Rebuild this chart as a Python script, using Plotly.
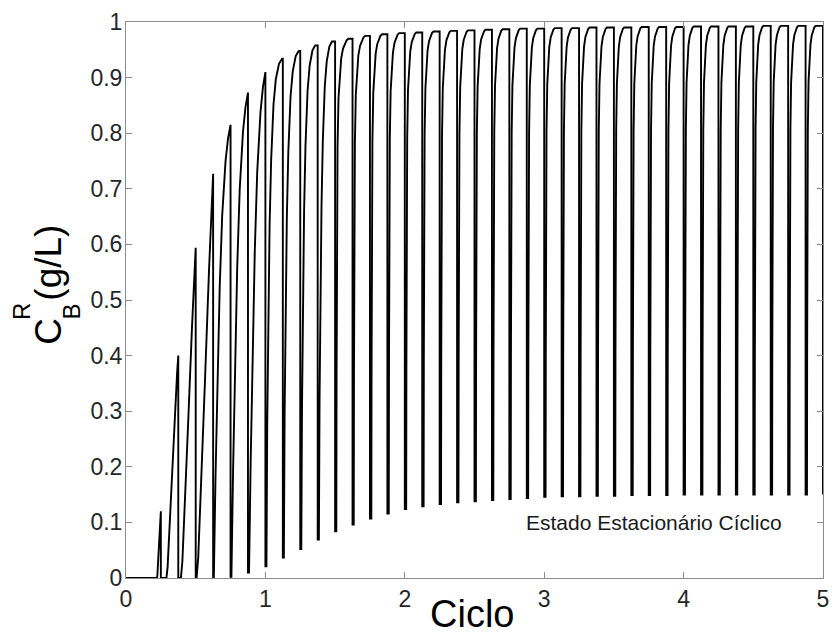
import plotly.graph_objects as go

# ---------------- data ----------------
STEP = 0.125          # one sub-step of a cycle (8 sub-steps per "Ciclo")
N_STEPS = 40          # 0 .. 5 Ciclo

# concentration reached at the end of each sub-step (just before the drop)
PEAK = [0.0, 0.120, 0.400, 0.594, 0.727, 0.815, 0.873, 0.910, 0.934, 0.948,
        0.958, 0.965, 0.970, 0.975, 0.978, 0.980, 0.981, 0.983, 0.984, 0.985,
        0.986, 0.987, 0.988, 0.988, 0.989, 0.989, 0.990, 0.990, 0.990, 0.991,
        0.991, 0.991, 0.992, 0.992, 0.992, 0.992, 0.993, 0.993, 0.993, 0.993]
# concentration at the start of each sub-step (just after the previous drop)
START = [0.0, 0.0, 0.0, 0.0, 0.0, 0.0, 0.002, 0.010, 0.021, 0.037,
         0.052, 0.069, 0.084, 0.096, 0.107, 0.116, 0.124, 0.129, 0.133, 0.136,
         0.138, 0.140, 0.142, 0.144, 0.146, 0.147, 0.147, 0.148, 0.148, 0.149,
         0.149, 0.149, 0.150, 0.150, 0.150, 0.150, 0.150, 0.150, 0.150, 0.150]
FINAL_DROP = 0.150    # value after the last drop at Ciclo = 5

# fraction of the sub-step before the rise starts, and fraction used by the rise
DELAY = [0.0, 0.78, 0.32, 0.15, 0.05, 0.04, 0.05, 0.06, 0.06, 0.06,
         0.06, 0.07, 0.07, 0.07, 0.08, 0.08, 0.08, 0.08, 0.08, 0.08,
         0.08, 0.08, 0.08, 0.08, 0.08, 0.08, 0.08, 0.08, 0.08, 0.08,
         0.08, 0.08, 0.08, 0.08, 0.08, 0.08, 0.08, 0.08, 0.08, 0.08]
SPAN = [1.0, 0.22, 0.68, 0.85, 0.95, 0.96, 0.95, 0.94, 0.90, 0.85,
        0.80, 0.75, 0.70, 0.66, 0.62, 0.60, 0.58, 0.57, 0.56, 0.55,
        0.55, 0.54, 0.54, 0.53, 0.53, 0.52, 0.52, 0.52, 0.51, 0.51,
        0.51, 0.50, 0.50, 0.50, 0.50, 0.50, 0.50, 0.50, 0.50, 0.50]
SHAPE = ["flat", "ramp", "ramp", "ramp", "ramp", "bend", "bend", "bend", "mid", "mid",
         "mid", "mid", "knee", "knee", "knee", "knee", "knee", "knee", "knee", "knee",
         "knee", "knee", "knee", "knee", "knee", "knee", "knee", "knee", "knee", "knee",
         "knee", "knee", "knee", "knee", "knee", "knee", "knee", "knee", "knee", "knee"]

# normalised rise shapes (time fraction -> fraction of the rise completed)
PROFILES = {
    "flat": ([0.0, 1.0], [0.0, 0.0]),
    "ramp": ([0.0, 0.1, 0.25, 0.5, 0.75, 0.9, 1.0],
             [0.0, 0.05, 0.2, 0.48, 0.76, 0.92, 1.0]),
    "bend": ([0.0, 0.1, 0.2, 0.35, 0.5, 0.7, 0.85, 1.0],
             [0.0, 0.22, 0.42, 0.64, 0.8, 0.92, 0.97, 1.0]),
    "mid": ([0.0, 0.05, 0.1, 0.2, 0.3, 0.45, 0.6, 0.8, 1.0],
            [0.0, 0.28, 0.46, 0.67, 0.8, 0.91, 0.96, 0.99, 1.0]),
    "knee": ([0.0, 0.02, 0.05, 0.1, 0.18, 0.28, 0.4, 0.55, 0.7, 0.85, 1.0],
             [0.0, 0.3, 0.58, 0.78, 0.88, 0.93, 0.96, 0.98, 0.99, 0.997, 1.0]),
}

X_TICKS = [0, 1, 2, 3, 4, 5]
Y_TICKS = [0, 0.1, 0.2, 0.3, 0.4, 0.5, 0.6, 0.7, 0.8, 0.9, 1]
ANNOT_TEXT = "Estado Estacionário Cíclico"
ANNOT_X, ANNOT_Y = 2.855, 0.10

# ---------------- build the curve ----------------
xs, ys = [], []
for k in range(N_STEPS):
    t0 = k * STEP
    t1 = (k + 1) * STEP
    lo, hi = START[k], PEAK[k]
    us, fs = PROFILES[SHAPE[k]]
    xs.append(t0); ys.append(lo)
    if DELAY[k] > 0:
        xs.append(t0 + DELAY[k] * STEP); ys.append(lo)
    for u, f in zip(us[1:], fs[1:]):
        xs.append(t0 + (DELAY[k] + u * SPAN[k]) * STEP)
        ys.append(lo + f * (hi - lo))
    xs.append(t1); ys.append(hi)
    nxt = START[k + 1] if k + 1 < N_STEPS else FINAL_DROP
    xs.append(t1); ys.append(nxt)

FONT = "Arial, Liberation Sans, sans-serif"

fig = go.Figure()
fig.add_trace(go.Scatter(x=xs, y=ys, mode="lines",
                         line=dict(color="black", width=1.9),
                         showlegend=False, hoverinfo="skip"))

L, R, T, B = 126, 8, 22, 56
W, H = 837, 634
PW, PH = W - L - R, H - T - B


def px(xp):
    return (xp - L) / PW


def py(yp):
    return (H - B - yp) / PH


axis_common = dict(showgrid=False, zeroline=False, showline=True, mirror="allticks",
                   linecolor="#8c8c8c", linewidth=1, ticks="inside", ticklen=6,
                   tickcolor="#8c8c8c", tickwidth=1,
                   tickfont=dict(family=FONT, size=23, color="#262626"))

fig.update_layout(
    width=W, height=H,
    margin=dict(l=L, r=R, t=T, b=B),
    paper_bgcolor="white", plot_bgcolor="white",
    xaxis=dict(range=[0, 5], tickvals=X_TICKS, ticklabelstandoff=0, **axis_common),
    yaxis=dict(range=[0, 1], tickvals=Y_TICKS, ticklabelstandoff=-2, **axis_common),
    annotations=[
        dict(x=ANNOT_X, y=ANNOT_Y, xref="x", yref="y", text=ANNOT_TEXT,
             showarrow=False, xanchor="left", yanchor="middle",
             font=dict(family=FONT, size=21, color="#1a1a1a")),
        dict(x=px(475), y=py(614), xref="paper", yref="paper", text="Ciclo",
             showarrow=False, xanchor="center", yanchor="middle",
             font=dict(family=FONT, size=38, color="black")),
        dict(x=px(47), y=py(331), xref="paper", yref="paper", text="C",
             textangle=-90, showarrow=False, xanchor="center", yanchor="middle",
             font=dict(family=FONT, size=37, color="black")),
        dict(x=px(47), y=py(263), xref="paper", yref="paper", text="(g/L)",
             textangle=-90, showarrow=False, xanchor="center", yanchor="middle",
             font=dict(family=FONT, size=37, color="black")),
        dict(x=px(20), y=py(311), xref="paper", yref="paper", text="R",
             textangle=-90, showarrow=False, xanchor="center", yanchor="middle",
             font=dict(family=FONT, size=24, color="black")),
        dict(x=px(71), y=py(311), xref="paper", yref="paper", text="B",
             textangle=-90, showarrow=False, xanchor="center", yanchor="middle",
             font=dict(family=FONT, size=24, color="black")),
    ],
)

fig.write_html("out.html")
